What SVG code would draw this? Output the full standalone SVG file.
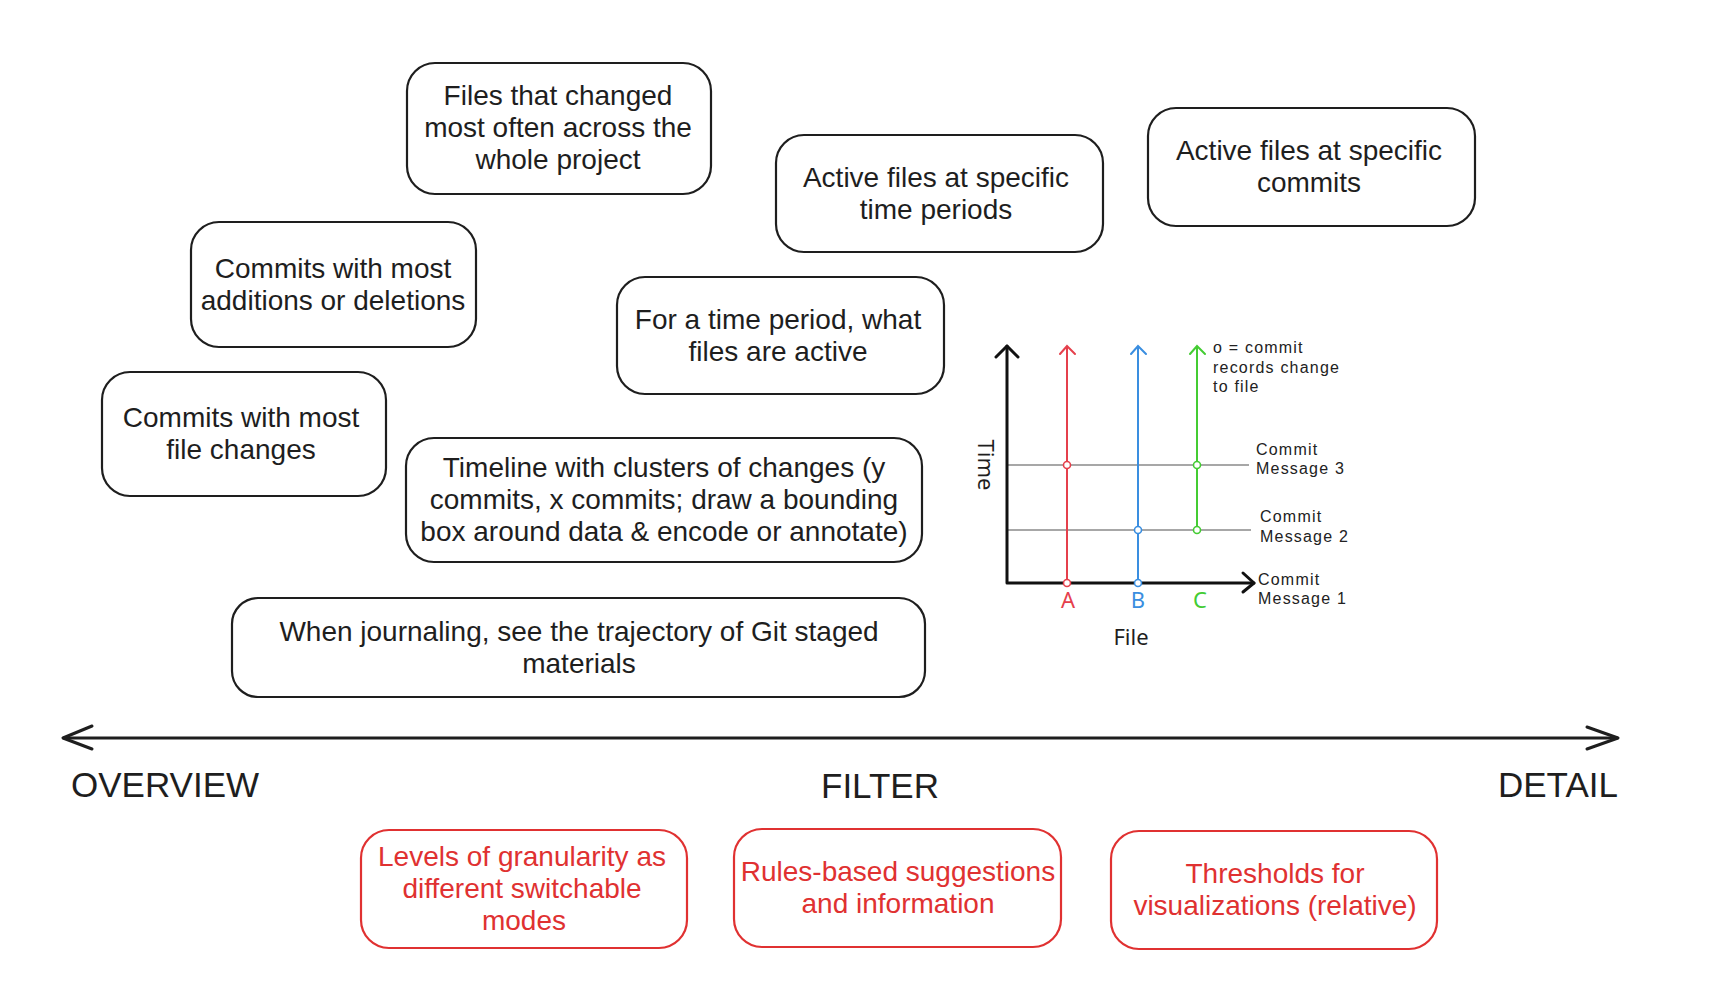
<svg xmlns="http://www.w3.org/2000/svg" width="1731" height="997" viewBox="0 0 1731 997">
<style>
  .box { fill: #ffffff; stroke: #1e1e1e; stroke-width: 2.2; }
  .rbox { fill: #ffffff; stroke: #e03131; stroke-width: 2.2; }
  .t { font-family: "Liberation Sans", Arial, sans-serif; font-size: 28px; fill: #1e1e1e; text-anchor: middle; }
  .rt { font-family: "Liberation Sans", Arial, sans-serif; font-size: 28px; fill: #e03131; text-anchor: middle; }
  .big { font-family: "Liberation Sans", Arial, sans-serif; font-size: 35px; fill: #1e1e1e; }
  .axis { stroke: #1e1e1e; stroke-width: 3; fill: none; stroke-linecap: round; stroke-linejoin: round; }
  .ch { font-family: "Liberation Sans", Arial, sans-serif; font-size: 16px; fill: #222222; letter-spacing: 1.2px; }
  .chl { font-family: "Noto Sans", "DejaVu Sans", sans-serif; font-size: 22px; text-anchor: middle; }
  .grid { stroke: #8a8a8a; stroke-width: 1.6; }
  .blk { stroke: #111111; stroke-width: 3; fill: none; stroke-linecap: round; stroke-linejoin: round; }
</style>

<g id="connectors">
  <line class="axis" x1="64" y1="738" x2="1617" y2="738"/>
  <polyline class="axis" points="92,726 63,738 92,749"/>
  <polyline class="axis" points="1587,727 1618,738 1587,749"/>
</g>

<g id="label-overview"><text class="big" x="71" y="797">OVERVIEW</text></g>
<g id="label-filter"><text class="big" x="821" y="798">FILTER</text></g>
<g id="label-detail"><text class="big" x="1498" y="797">DETAIL</text></g>

<g id="node-files-changed">
  <rect class="box" x="407" y="63" width="304" height="131" rx="28"/>
  <text class="t" x="558" y="105">Files that changed</text>
  <text class="t" x="558" y="137">most often across the</text>
  <text class="t" x="558" y="169">whole project</text>
</g>

<g id="node-commits-additions">
  <rect class="box" x="191" y="222" width="285" height="125" rx="28"/>
  <text class="t" x="333" y="278">Commits with most</text>
  <text class="t" x="333" y="310">additions or deletions</text>
</g>

<g id="node-commits-file-changes">
  <rect class="box" x="102" y="372" width="284" height="124" rx="28"/>
  <text class="t" x="241" y="427">Commits with most</text>
  <text class="t" x="241" y="459">file changes</text>
</g>

<g id="node-active-time-periods">
  <rect class="box" x="776" y="135" width="327" height="117" rx="28"/>
  <text class="t" x="936" y="187">Active files at specific</text>
  <text class="t" x="936" y="219">time periods</text>
</g>

<g id="node-time-period-active">
  <rect class="box" x="617" y="277" width="327" height="117" rx="28"/>
  <text class="t" x="778" y="329">For a time period, what</text>
  <text class="t" x="778" y="361">files are active</text>
</g>

<g id="node-active-commits">
  <rect class="box" x="1148" y="108" width="327" height="118" rx="28"/>
  <text class="t" x="1309" y="160">Active files at specific</text>
  <text class="t" x="1309" y="192">commits</text>
</g>

<g id="node-timeline">
  <rect class="box" x="406" y="438" width="516" height="124" rx="28"/>
  <text class="t" x="664" y="477">Timeline with clusters of changes (y</text>
  <text class="t" x="664" y="509">commits, x commits; draw a bounding</text>
  <text class="t" x="664" y="541">box around data &amp; encode or annotate)</text>
</g>

<g id="node-journaling">
  <rect class="box" x="232" y="598" width="693" height="99" rx="26"/>
  <text class="t" x="579" y="641">When journaling, see the trajectory of Git staged</text>
  <text class="t" x="579" y="673">materials</text>
</g>

<g id="node-granularity">
  <rect class="rbox" x="361" y="830" width="326" height="118" rx="28"/>
  <text class="rt" x="522" y="866">Levels of granularity as</text>
  <text class="rt" x="522" y="898">different switchable</text>
  <text class="rt" x="524" y="930">modes</text>
</g>

<g id="node-rules">
  <rect class="rbox" x="734" y="829" width="327" height="118" rx="28"/>
  <text class="rt" x="898" y="881">Rules-based suggestions</text>
  <text class="rt" x="898" y="913">and information</text>
</g>

<g id="node-thresholds">
  <rect class="rbox" x="1111" y="831" width="326" height="118" rx="28"/>
  <text class="rt" x="1275" y="883">Thresholds for</text>
  <text class="rt" x="1275" y="915">visualizations (relative)</text>
</g>

<g id="chart">
  <line class="grid" x1="1007" y1="465" x2="1249" y2="465"/>
  <line class="grid" x1="1007" y1="530" x2="1251" y2="530"/>
  <line x1="1067" y1="346" x2="1067" y2="583" stroke="#e5404c" stroke-width="2"/>
  <polyline points="1060,354 1067,346 1075,354" fill="none" stroke="#e5404c" stroke-width="2" stroke-linecap="round"/>
  <line x1="1138" y1="346" x2="1138" y2="583" stroke="#3a8ee0" stroke-width="2"/>
  <polyline points="1131,354 1138,346 1146,354" fill="none" stroke="#3a8ee0" stroke-width="2" stroke-linecap="round"/>
  <line x1="1197" y1="346" x2="1197" y2="530" stroke="#44cc33" stroke-width="2"/>
  <polyline points="1190,354 1197,346 1205,354" fill="none" stroke="#44cc33" stroke-width="2" stroke-linecap="round"/>
  <polyline class="blk" points="1007,346 1007,583 1254,583"/>
  <polyline class="blk" points="996,357 1007,346 1018,357"/>
  <polyline class="blk" points="1243,573 1254,583 1243,592"/>
  <circle cx="1067" cy="465" r="3.5" fill="#ffffff" stroke="#e5404c" stroke-width="1.6"/>
  <circle cx="1067" cy="583" r="3.5" fill="#ffffff" stroke="#e5404c" stroke-width="1.6"/>
  <circle cx="1138" cy="530" r="3.5" fill="#ffffff" stroke="#3a8ee0" stroke-width="1.6"/>
  <circle cx="1138" cy="583" r="3.5" fill="#ffffff" stroke="#3a8ee0" stroke-width="1.6"/>
  <circle cx="1197" cy="465" r="3.5" fill="#ffffff" stroke="#44cc33" stroke-width="1.6"/>
  <circle cx="1197" cy="530" r="3.5" fill="#ffffff" stroke="#44cc33" stroke-width="1.6"/>
  <text class="ch" x="1213" y="353">o = commit</text>
  <text class="ch" x="1213" y="373">records change</text>
  <text class="ch" x="1213" y="392">to file</text>
  <text class="ch" x="1256" y="455">Commit</text>
  <text class="ch" x="1256" y="474">Message 3</text>
  <text class="ch" x="1260" y="522">Commit</text>
  <text class="ch" x="1260" y="542">Message 2</text>
  <text class="ch" x="1258" y="585">Commit</text>
  <text class="ch" x="1258" y="604">Message 1</text>
  <text class="chl" x="1068" y="608" fill="#e5404c">A</text>
  <text class="chl" x="1138" y="608" fill="#3a8ee0">B</text>
  <text class="chl" x="1200" y="608" fill="#44cc33">C</text>
  <text class="chl" x="1131" y="645" fill="#1e1e1e">File</text>
  <text class="chl" x="0" y="0" fill="#1e1e1e" dominant-baseline="central" transform="translate(987,465) rotate(90)">Time</text>
</g>
</svg>
